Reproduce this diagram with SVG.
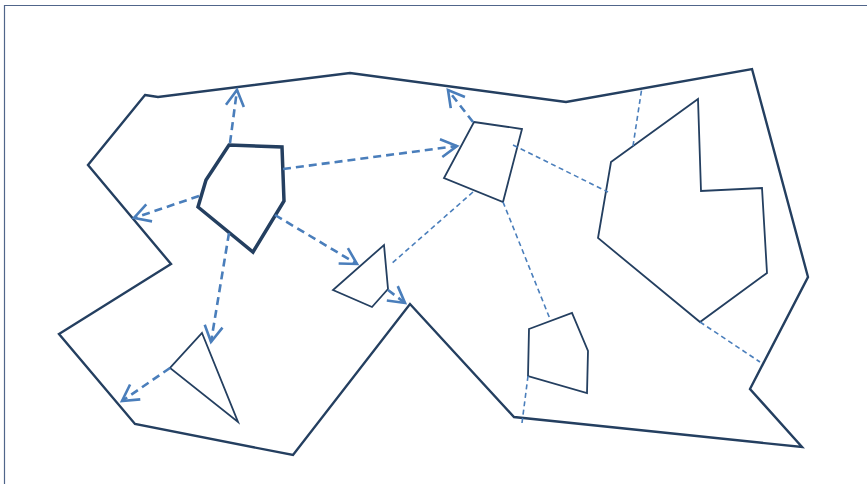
<svg xmlns="http://www.w3.org/2000/svg" width="867" height="484" viewBox="0 0 867 484">
<style>
.frame{fill:none;stroke:#50658a;stroke-width:1.2}
.outer{fill:none;stroke:#243f60;stroke-width:2.4;stroke-linejoin:miter}
.obs{fill:none;stroke:#243f60;stroke-width:1.8}
.robot{fill:none;stroke:#243f60;stroke-width:3.5}
.arrow{fill:none;stroke:#4a7ebb;stroke-width:2.6;stroke-dasharray:8,5;marker-end:url(#head)}
.link{fill:none;stroke:#4a7ebb;stroke-width:1.6;stroke-dasharray:5,3.5}
</style>
<defs>
<marker id="head" markerUnits="userSpaceOnUse" markerWidth="40" markerHeight="40" viewBox="-20 -20 40 40" refX="0" refY="0" orient="auto">
<path d="M-16,-9 L0,0 L-16,9" fill="none" stroke="#4a7ebb" stroke-width="2.6"/>
</marker>
</defs>
<rect width="867" height="484" fill="#ffffff"/>
<path class="frame" d="M4.5,484 V5.5 H867"/>
<g id="outer-boundary">
<path class="outer" d="M145,95 L158,97 L350,73 L566,102 L752,69 L808,277 L750,389 L802,447 L514,417 L410,304 L293,455 L135,424 L59,334 L171,264 L88,165 Z"/>
</g>
<g id="robot">
<polygon class="robot" points="229,145 282,147 284,201 253,252 198,207 206,180"/>
</g>
<g id="quad-upper">
<polygon class="obs" points="474,122 522,129 503,202 444,178"/>
</g>
<g id="small-quad">
<polygon class="obs" points="384,245 388,289 372,307 333,290"/>
</g>
<g id="triangle">
<polygon class="obs" points="202,333 238,422 170,368"/>
</g>
<g id="big-polygon">
<polygon class="obs" points="611,162 698,99 701,191 762,188 767,273 700,322 598,238"/>
</g>
<g id="small-pentagon">
<polygon class="obs" points="529,329 572,313 588,351 587,393 528,376"/>
</g>
<g id="connectors">
<line class="link" x1="513" y1="145" x2="608" y2="192"/>
<line class="link" x1="633" y1="146" x2="642" y2="87"/>
<line class="link" x1="503" y1="202" x2="550" y2="319"/>
<line class="link" x1="528" y1="376" x2="522" y2="423"/>
<line class="link" x1="700" y1="322" x2="760" y2="362"/>
<line class="link" x1="473" y1="192" x2="390" y2="265"/>
<line class="arrow" x1="230" y1="143" x2="237" y2="90"/>
<line class="arrow" x1="199" y1="196" x2="134" y2="218"/>
<line class="arrow" x1="283" y1="169" x2="457" y2="146"/>
<line class="arrow" x1="275" y1="215" x2="357" y2="264"/>
<line class="arrow" x1="473" y1="122" x2="448" y2="90"/>
<line class="arrow" x1="388" y1="290" x2="405" y2="303"/>
<line class="arrow" x1="229" y1="233" x2="211" y2="342"/>
<line class="arrow" x1="170" y1="368" x2="122" y2="401"/>
</g>
</svg>
